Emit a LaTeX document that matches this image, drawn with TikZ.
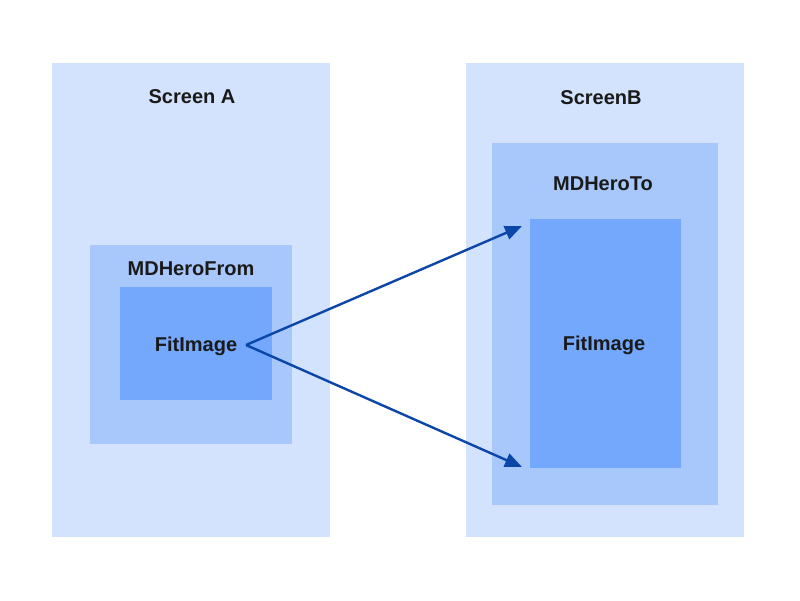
\documentclass[tikz,border=0pt]{standalone}
\usepackage{fontspec}
\setmainfont{Liberation Sans}
\usetikzlibrary{arrows.meta}
\definecolor{screenbg}{HTML}{D3E3FD}
\definecolor{herobg}{HTML}{A8C7FA}
\definecolor{imgbg}{HTML}{74A8FC}
\definecolor{arrowcol}{HTML}{0B47A8}
\definecolor{txt}{HTML}{1A1A1A}
\tikzset{
  box/.style={rectangle, inner sep=0pt, outer sep=0pt, anchor=north west},
  screenbox/.style={box, fill=screenbg},
  herobox/.style={box, fill=herobg},
  imgbox/.style={box, fill=imgbg},
  lbl/.style={inner sep=0pt, anchor=base, text=txt, font=\fontsize{20}{24}\selectfont\bfseries},
  conn/.style={draw=arrowcol, line width=2.4pt, -{Triangle[length=17pt,width=14pt]}}
}
\begin{document}
\begin{tikzpicture}[x=1pt,y=-1pt]
\useasboundingbox (0,0) rectangle (800,600);
% Screen A
\node[screenbox, minimum width=278pt, minimum height=474pt] (scrA) at (52,63) {};
\node[herobox, minimum width=202pt, minimum height=199pt] (heroA) at (90,245) {};
\node[imgbox, minimum width=152pt, minimum height=113pt] (imgA) at (120,287) {};
\node[lbl] (lblA) at (192,103.5) {Screen A};
\node[lbl] (lblHeroA) at (191,275) {MDHeroFrom};
\node[lbl] (lblImgA) at (196,351.5) {FitImage};
% Screen B
\node[screenbox, minimum width=278pt, minimum height=474pt] (scrB) at (466,63) {};
\node[herobox, minimum width=226pt, minimum height=362pt] (heroB) at (492,143) {};
\node[imgbox, minimum width=151pt, minimum height=249pt] (imgB) at (530,219) {};
\node[lbl] (lblB) at (601,104.5) {ScreenB};
\node[lbl] (lblHeroB) at (603,190) {MDHeroTo};
\node[lbl] (lblImgB) at (604,350.5) {FitImage};
% connectors
\coordinate (start) at (246,345);
\coordinate (topTip) at (522,226);
\coordinate (botTip) at (522,467);
\draw[conn] (start) -- (topTip);
\draw[conn] (start) -- (botTip);
\end{tikzpicture}
\end{document}
